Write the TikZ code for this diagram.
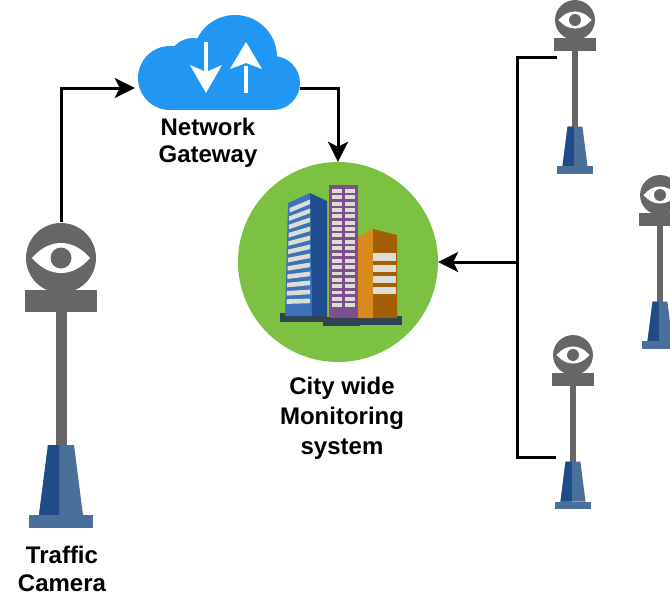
\documentclass[tikz,border=0pt]{standalone}
\usepackage{fontspec}
\setmainfont{Liberation Sans}
\usetikzlibrary{arrows.meta}

\definecolor{camgray}{RGB}{102,102,102}
\definecolor{basedark}{RGB}{31,75,137}
\definecolor{baselight}{RGB}{74,111,153}
\definecolor{cloudblue}{RGB}{33,150,243}
\definecolor{cityGreen}{RGB}{124,193,66}
\definecolor{towerBlue}{RGB}{61,114,184}
\definecolor{towerBlueDark}{RGB}{31,77,143}
\definecolor{towerPurple}{RGB}{125,79,140}
\definecolor{towerOrange}{RGB}{217,138,28}
\definecolor{towerOrangeDark}{RGB}{163,95,5}
\definecolor{windowGrey}{RGB}{220,222,214}
\definecolor{groundSlate}{RGB}{46,68,83}

\tikzset{
  wire/.style={line width=3pt, black},
  arrowwire/.style={wire, -{Stealth[length=20pt,width=20pt,inset=5pt]}},
  caption/.style={font=\bfseries\fontsize{24}{28}\selectfont, align=center, text=black, inner sep=0pt},
  camera/.pic={
    % head, mounting bar and pole
    \fill[camgray] (0,0) circle (35);
    \fill[camgray] (-36,32) rectangle (36,54);
    \fill[camgray] (-5.5,50) rectangle (5.5,190);
    % two-tone base and foot plate
    \fill[baselight] (-13,187) -- (13,187) -- (22,257) -- (-22,257) -- cycle;
    \fill[basedark] (-13,187) -- (-2,187) -- (-2,257) -- (-22,257) -- cycle;
    \fill[baselight] (-32,257) rectangle (32,270);
    % eye
    \fill[white] (-29,0) .. controls (-12,-20) and (12,-20) .. (29,0)
                 .. controls (12,20) and (-12,20) .. (-29,0) -- cycle;
    \fill[camgray] (0,0) circle (10.5);
  }
}

\begin{document}
\begin{tikzpicture}[x=1pt, y=-1pt]
  \useasboundingbox (0,0) rectangle (670,598);

  % ---------- cameras ----------
  \pic at (61,258) {camera};
  \pic[scale=0.57] at (575,20) {camera};
  \pic[scale=0.57] at (660,195) {camera};
  \pic[scale=0.57] at (573,355) {camera};

  \coordinate (camL) at (61,222);
  \coordinate (camTR) at (557,57);
  \coordinate (camBR) at (556,457);

  % ---------- cloud gateway ----------
  \fill[cloudblue] (235,57) circle (42);
  \fill[cloudblue] (193,63) circle (25);
  \fill[cloudblue] (170,78) circle (32);
  \fill[cloudblue] (273,83) circle (27);
  \fill[cloudblue] (170,75) rectangle (273,110);
  % up / down arrows
  \fill[white] (204,42) rectangle (208,72);
  \fill[white] (190,65) -- (206,72) -- (222,65) -- (206,93) -- cycle;
  \fill[white] (244,66) rectangle (248,93);
  \fill[white] (230,69) -- (246,42) -- (262,69) -- (246,63) -- cycle;
  \node[minimum width=165pt, minimum height=40pt, inner sep=0pt] (cloud) at (217.5,88) {};

  % ---------- city monitoring ----------
  \node[circle, fill=cityGreen, minimum size=200pt, inner sep=0pt] (monitor) at (338,262) {};

  % ground shadows
  \fill[groundSlate] (280,313) rectangle (327,322);
  \fill[groundSlate] (323,317) rectangle (360,326);
  \fill[groundSlate] (357,316) rectangle (402,325);

  % blue tower
  \fill[towerBlue] (288,203) -- (310,193) -- (312,316) -- (285,316) -- cycle;
  \fill[towerBlueDark] (310,193) -- (327,201) -- (327,316) -- (312,316) -- cycle;
  \foreach \i in {0,...,11} {
    \pgfmathsetmacro{\yl}{208+\i*8.3}
    \pgfmathsetmacro{\sl}{8.5*(1-\i/12)}
    \pgfmathsetmacro{\xl}{289.5-\i*0.26}
    \fill[windowGrey] (\xl,\yl) -- (310,\yl-\sl) -- (310,\yl-\sl+4.6) -- (\xl,\yl+4.6) -- cycle;
  }

  % purple tower
  \fill[towerPurple] (329,185) rectangle (358,318);
  \foreach \r in {0,...,18} {
    \pgfmathsetmacro{\yw}{189+\r*6.35}
    \fill[windowGrey] (332,\yw) rectangle (342,\yw+3.8);
    \fill[windowGrey] (345,\yw) rectangle (355,\yw+3.8);
  }

  % orange tower
  \fill[towerOrange] (358,237) -- (373,229) -- (373,318) -- (358,318) -- cycle;
  \fill[towerOrangeDark] (373,229) -- (397,235) -- (397,318) -- (373,318) -- cycle;
  \foreach \ya/\yb in {253/261, 265/272, 276/283, 287/294}
    \fill[windowGrey] (373,\ya) rectangle (396,\yb);

  % ---------- connectors ----------
  \draw[arrowwire] (camL) |- (cloud.west);
  \draw[arrowwire] (cloud.east) -| (monitor.north);
  \coordinate (busTop) at (517,57);
  \coordinate (busBot) at (517,457);
  \coordinate (busMid) at (517,262);
  \draw[wire] (camTR) -- (busTop) -- (busBot) -- (camBR);
  \draw[arrowwire] (busMid) -- (monitor.east);

  % ---------- captions ----------
  \node[caption] (lblCam) at (62,569) {Traffic\\Camera};
  \node[caption, font=\bfseries\fontsize{24}{27}\selectfont] (lblGate) at (208,143) {Network\\Gateway};
  \node[caption, font=\bfseries\fontsize{24}{30}\selectfont] (lblCity) at (342,418) {City wide\\Monitoring\\system};
\end{tikzpicture}
\end{document}
